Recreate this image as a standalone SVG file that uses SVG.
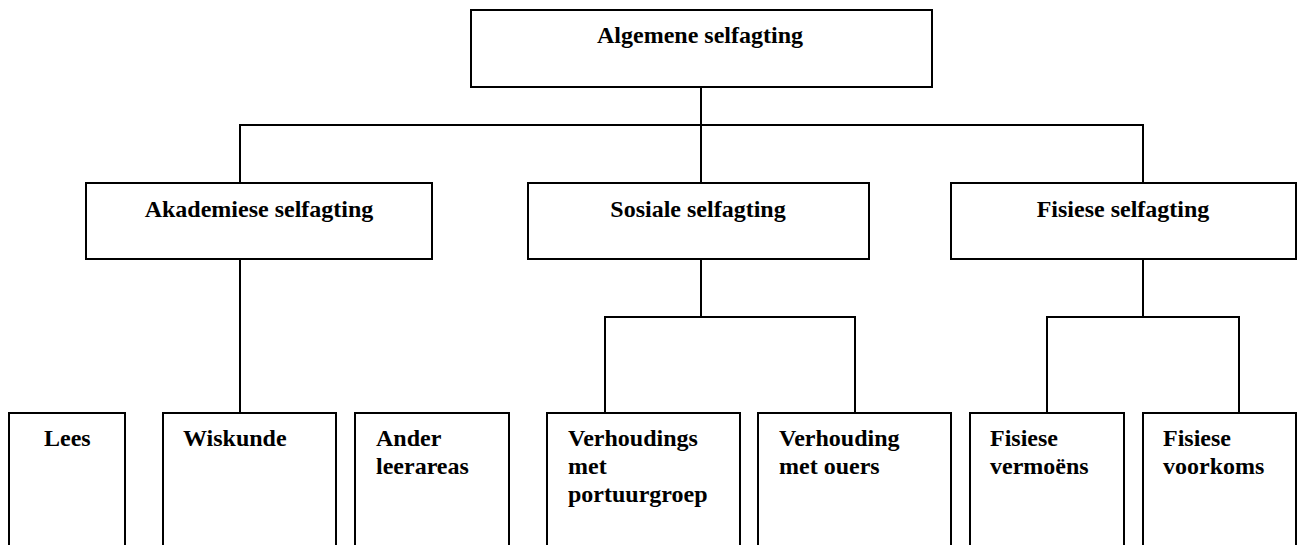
<svg xmlns="http://www.w3.org/2000/svg" width="1299" height="545" viewBox="0 0 1299 545">
<style>
rect.box{fill:#fff;stroke:#000;stroke-width:2}
.conn line{stroke:#000;stroke-width:2;stroke-linecap:square}
text{font-family:"Liberation Serif","Times New Roman",serif;font-weight:bold;font-size:24px;fill:#000}
.c{text-anchor:middle}
</style>
<rect width="1299" height="545" fill="#fff"/>
<g class="conn" id="connectors">
<line x1="701" y1="87" x2="701" y2="125"/>
<line x1="240" y1="125" x2="1143" y2="125"/>
<line x1="240" y1="125" x2="240" y2="183"/>
<line x1="701" y1="125" x2="701" y2="183"/>
<line x1="1143" y1="125" x2="1143" y2="183"/>
<line x1="240" y1="259" x2="240" y2="413"/>
<line x1="701" y1="259" x2="701" y2="317"/>
<line x1="605" y1="317" x2="855" y2="317"/>
<line x1="605" y1="317" x2="605" y2="413"/>
<line x1="855" y1="317" x2="855" y2="413"/>
<line x1="1143" y1="259" x2="1143" y2="317"/>
<line x1="1047" y1="317" x2="1239" y2="317"/>
<line x1="1047" y1="317" x2="1047" y2="413"/>
<line x1="1239" y1="317" x2="1239" y2="413"/>
</g>
<g id="algemene"><rect class="box" x="471" y="10" width="461" height="77"/><text class="c" x="700" y="43">Algemene selfagting</text></g>
<g id="akademiese"><rect class="box" x="86" y="183" width="346" height="76"/><text class="c" x="259" y="217">Akademiese selfagting</text></g>
<g id="sosiale"><rect class="box" x="528" y="183" width="341" height="76"/><text class="c" x="698" y="217">Sosiale selfagting</text></g>
<g id="fisiese"><rect class="box" x="951" y="183" width="345" height="76"/><text class="c" x="1123" y="217">Fisiese selfagting</text></g>
<g id="lees"><rect class="box" x="9" y="413" width="116" height="160"/><text x="44" y="446">Lees</text></g>
<g id="wiskunde"><rect class="box" x="163" y="413" width="173" height="160"/><text x="183" y="446">Wiskunde</text></g>
<g id="ander"><rect class="box" x="355" y="413" width="154" height="160"/><text x="376" y="446">Ander</text><text x="376" y="474">leerareas</text></g>
<g id="portuurgroep"><rect class="box" x="547" y="413" width="193" height="160"/><text x="568" y="446">Verhoudings</text><text x="568" y="474">met</text><text x="568" y="502">portuurgroep</text></g>
<g id="ouers"><rect class="box" x="758" y="413" width="193" height="160"/><text x="779" y="446">Verhouding</text><text x="779" y="474">met ouers</text></g>
<g id="vermoens"><rect class="box" x="970" y="413" width="154" height="160"/><text x="990" y="446">Fisiese</text><text x="990" y="474">vermoëns</text></g>
<g id="voorkoms"><rect class="box" x="1143" y="413" width="153" height="160"/><text x="1163" y="446">Fisiese</text><text x="1163" y="474">voorkoms</text></g>
</svg>
